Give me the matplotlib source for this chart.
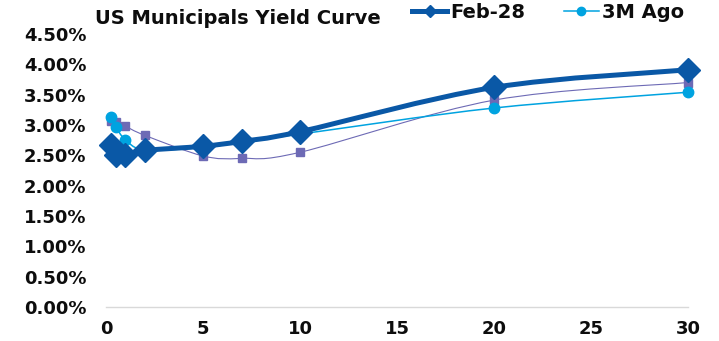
import matplotlib
matplotlib.use("Agg")
import matplotlib.pyplot as plt
from matplotlib.path import Path
from matplotlib.patches import PathPatch
from matplotlib.lines import Line2D
import numpy as np

# ---- data ----
maturities = [0.25, 0.5, 1, 2, 5, 7, 10, 20, 30]
feb28 = [2.67, 2.51, 2.51, 2.58, 2.65, 2.73, 2.89, 3.62, 3.91]
ago3m = [3.14, 2.97, 2.76, 2.59, 2.63, 2.72, 2.85, 3.28, 3.54]
other = [3.07, 3.05, 2.98, 2.83, 2.49, 2.45, 2.55, 3.41, 3.70]
yticks = [0, 0.5, 1.0, 1.5, 2.0, 2.5, 3.0, 3.5, 4.0, 4.5]
xticks = [0, 5, 10, 15, 20, 25, 30]
title = "US Municipals Yield Curve"
legend_labels = ["Feb-28", "3M Ago"]

C_FEB = "#0a58a6"
C_3M = "#00a3e0"
C_OTH = "#6d6ab5"
TXT = "#0d0d0d"
FONT = "DejaVu Sans"


def smooth_path(xs, ys):
    """Excel-like smoothed line: Catmull-Rom converted to cubic Bezier."""
    pts = np.column_stack([xs, ys]).astype(float)
    n = len(pts)
    verts = [pts[0]]
    codes = [Path.MOVETO]
    for i in range(n - 1):
        p0 = pts[i - 1] if i > 0 else pts[i]
        p1 = pts[i]
        p2 = pts[i + 1]
        p3 = pts[i + 2] if i + 2 < n else pts[i + 1]
        c1 = p1 + (p2 - p0) / 6.0
        c2 = p2 - (p3 - p1) / 6.0
        verts += [c1, c2, p2]
        codes += [Path.CURVE4] * 3
    return Path(verts, codes)


fig = plt.figure(figsize=(7.19, 3.41), dpi=100)
W, H = 719, 341
x0, x1, y0, y1 = 106, 688, 307, 34
ax = fig.add_axes([x0 / W, 1 - y0 / H, (x1 - x0) / W, (y0 - y1) / H])

series = [
    (other, C_OTH, 0.8, "s", 5.5, 4),
    (ago3m, C_3M, 1.1, "o", 7.5, 5),
    (feb28, C_FEB, 3.6, "D", 12.5, 6),
]
for ys, c, lw, mk, ms, z in series:
    patch = PathPatch(smooth_path(maturities, ys), facecolor="none",
                      edgecolor=c, lw=lw, zorder=z, capstyle="round",
                      joinstyle="round")
    ax.add_patch(patch)
    ax.plot(maturities, ys, linestyle="none", marker=mk, ms=ms, color=c,
            mec=c, zorder=z + 0.5, clip_on=False)

ax.set_xlim(0, 30)
ax.set_ylim(0, 4.5)
ax.set_xticks(xticks)
ax.set_xticklabels([str(v) for v in xticks])
ax.set_yticks(yticks)
ax.set_yticklabels([f"{v:.2f}%" for v in yticks])

for s in ["top", "right", "left"]:
    ax.spines[s].set_visible(False)
ax.spines["bottom"].set_color("#d9d9d9")
ax.spines["bottom"].set_linewidth(1.0)
ax.tick_params(axis="both", length=0, labelsize=13, labelcolor=TXT)
ax.tick_params(axis="y", pad=14)
ax.tick_params(axis="x", pad=9)
for lab in ax.get_xticklabels() + ax.get_yticklabels():
    lab.set_fontweight("bold")
    lab.set_family(FONT)

fig.text(95 / W, 1 - 18.5 / H, title, ha="left", va="center",
         fontsize=14, fontweight="bold", family=FONT, color=TXT)

handles = [
    Line2D([], [], color=C_FEB, lw=3.6, marker="D", ms=6),
    Line2D([], [], color=C_3M, lw=1.1, marker="o", ms=6),
]
leg = fig.legend(handles, legend_labels, ncol=2, frameon=False,
                 loc="center left", bbox_to_anchor=(412 / W, 1 - 12.5 / H),
                 prop={"family": FONT, "weight": "bold", "size": 14},
                 handlelength=1.8, handletextpad=0.15, columnspacing=2.0,
                 borderpad=0, borderaxespad=0)
for t in leg.get_texts():
    t.set_color(TXT)

fig.savefig("out.png", dpi=100)
